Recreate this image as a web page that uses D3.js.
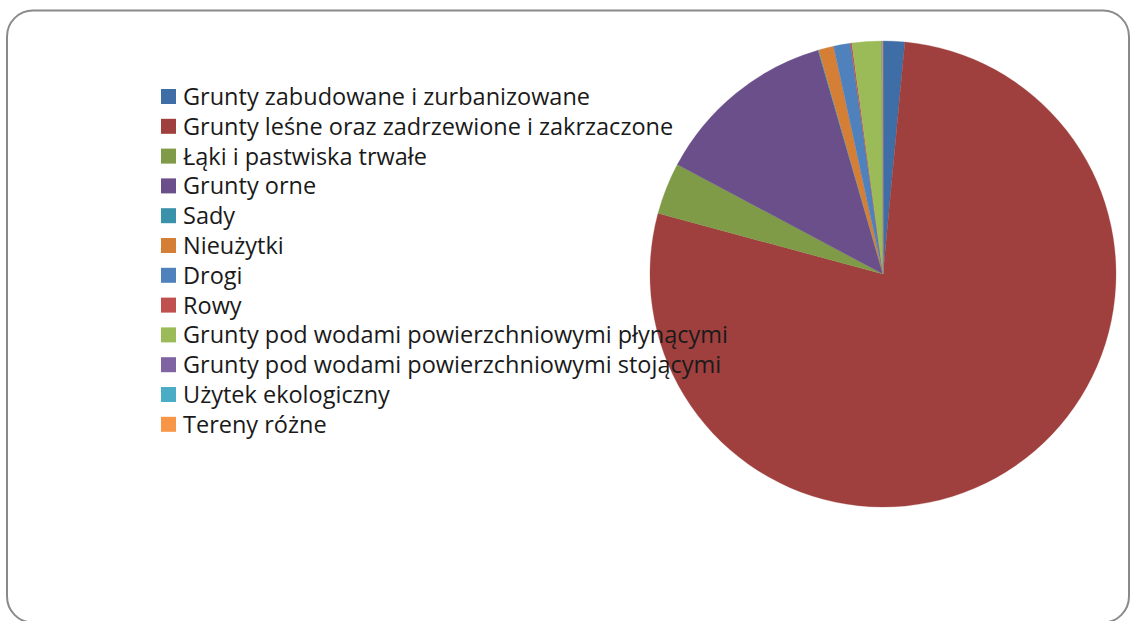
<!DOCTYPE html>
<html><head><meta charset="utf-8">
<script src="https://cdn.jsdelivr.net/npm/d3@7"></script>
<style>body{margin:0;background:#fff}svg{display:block}</style>
</head><body>
<svg id="c" width="1131" height="621"></svg>
<script>
const categories = ["Grunty zabudowane i zurbanizowane","Grunty leśne oraz zadrzewione i zakrzaczone","Łąki i pastwiska trwałe","Grunty orne","Sady","Nieużytki","Drogi","Rowy","Grunty pod wodami powierzchniowymi płynącymi","Grunty pod wodami powierzchniowymi stojącymi","Użytek ekologiczny","Tereny różne"];
const values = [1.5, 77.9, 3.6, 12.75, 0.05, 1.05, 1.17, 0.1, 2.05, 0.05, 0.02, 0.02];
const colors = ["#3F6DA5","#9F403E","#7F9B48","#6A4F8B","#3A91AA","#D47E36","#4F81BD","#C0504D","#9BBB59","#8064A2","#4BACC6","#F79646"];

const svg = d3.select("#c");
svg.append("rect").attr("x",7).attr("y",10.5).attr("width",1122).attr("height",612)
  .attr("rx",26).attr("fill","#fff").attr("stroke","#8a8a8a").attr("stroke-width",2);

const cx = 883, cy = 274, R = 233;
const pie = d3.pie().sort(null).value(d => d);
const arc = d3.arc().innerRadius(0).outerRadius(R);
const color = d3.scaleOrdinal().domain(categories).range(colors);
const g = svg.append("g").attr("transform",`translate(${cx},${cy})`);
g.selectAll("path").data(pie(values)).join("path")
  .attr("d", arc).attr("fill",(d,i)=>color(categories[i]))
  .attr("stroke",(d,i)=>color(categories[i])).attr("stroke-width",0.3);

const leg = svg.append("g").attr("transform","translate(161,89)");
const y = d3.scalePoint().domain(categories).range([0, 29.8*11]);
const items = leg.selectAll("g").data(categories).join("g").attr("transform",d=>`translate(0,${y(d)})`);
items.append("rect").attr("width",15).attr("height",15).attr("fill",d=>color(d));
items.append("text").attr("x",22).attr("y",16).text(d=>d)
  .attr("font-family","'Open Sans', sans-serif").attr("font-size",23.5).attr("fill","#1a1a1a");
</script>
</body></html>
